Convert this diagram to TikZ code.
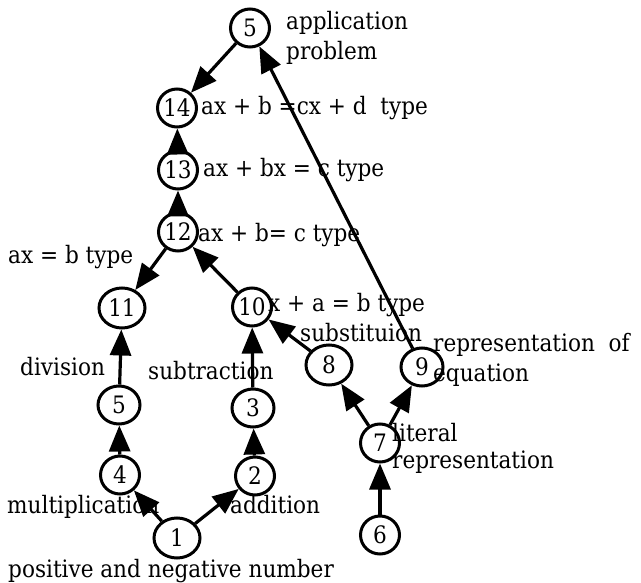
\documentclass[tikz,border=0pt]{standalone}
\usepackage{fontspec}
\setmainfont{DejaVu Serif Condensed}
\usepackage{tikz}
\usetikzlibrary{arrows.meta,shapes.geometric}
\tikzset{
  num/.style={ellipse,draw,line width=3pt,minimum width=39pt,
    minimum height=38pt,inner sep=0pt,font=\fontsize{24}{28}\selectfont},
  wide/.style={minimum width=46pt,minimum height=40pt},
  mid/.style={minimum width=42pt},
  lbl/.style={anchor=north west,inner sep=0pt,align=left,
    font=\fontsize{24}{30}\selectfont},
  flow/.style={-{Triangle[length=26pt,width=21pt]},line width=3.2pt}
}

\begin{document}
\begin{tikzpicture}[x=1pt,y=-1pt]
  \useasboundingbox (0,0) rectangle (641,583);
  \node[num] (n5a) at (250,28) {5};
  \node[num] (n14) at (177,108) {14};
  \node[num] (n13) at (178,170) {13};
  \node[num] (n12) at (178,232) {12};
  \node[num,wide] (n11) at (122,308) {11};
  \node[num] (n10) at (252,307) {10};
  \node[num,wide] (n8) at (329,365) {8};
  \node[num,mid] (n9) at (422,367) {9};
  \node[num,mid] (n5) at (119,405) {5};
  \node[num,mid] (n3) at (253,408) {3};
  \node[num] (n7) at (380,443) {7};
  \node[num] (n4) at (120,475) {4};
  \node[num] (n2) at (255,476) {2};
  \node[num,wide] (n1) at (177,538) {1};
  \node[num] (n6) at (380,535) {6};
  \node[lbl] (lapp) at (286,11) {application\\problem};
  \node[lbl] (l14) at (201,96) {ax + b =cx + d \ type};
  \node[lbl] (l13) at (203,158) {ax + bx = c type};
  \node[lbl] (l12) at (198,223) {ax + b= c type};
  \node[lbl] (l11) at (8,245) {ax = b type};
  \node[lbl] (l10) at (268,293) {x + a = b type};
  \node[lbl] (lsub) at (300,323) {substituion};
  \node[lbl] (l9) at (433,333) {representation \ of\\equation};
  \node[lbl] (ldiv) at (20,357) {division};
  \node[lbl] (lsubt) at (148,361) {subtraction};
  \node[lbl] (l7) at (392,423) {literal\\[-3pt]representation};
  \node[lbl] (lmul) at (7,495) {multiplication};
  \node[lbl] (ladd) at (230,495) {addition};
  \node[lbl] (l1) at (8,559) {positive and negative number};
  \draw[flow] (n5a) -- (n14);
  \draw[flow] (n9) -- (n5a);
  \draw[flow] (n13) -- (n14);
  \draw[flow] (n12) -- (n13);
  \draw[flow] (n12) -- (n11);
  \draw[flow] (n10) -- (n12);
  \draw[flow] (n5) -- (n11);
  \draw[flow] (n3) -- (n10);
  \draw[flow] (n8) -- (n10);
  \draw[flow] (n7) -- (n8);
  \draw[flow] (n7) -- (n9);
  \draw[flow] (n6) -- (n7);
  \draw[flow] (n4) -- (n5);
  \draw[flow] (n2) -- (n3);
  \draw[flow] (n1) -- (n4);
  \draw[flow] (n1) -- (n2);
\end{tikzpicture}
\end{document}
